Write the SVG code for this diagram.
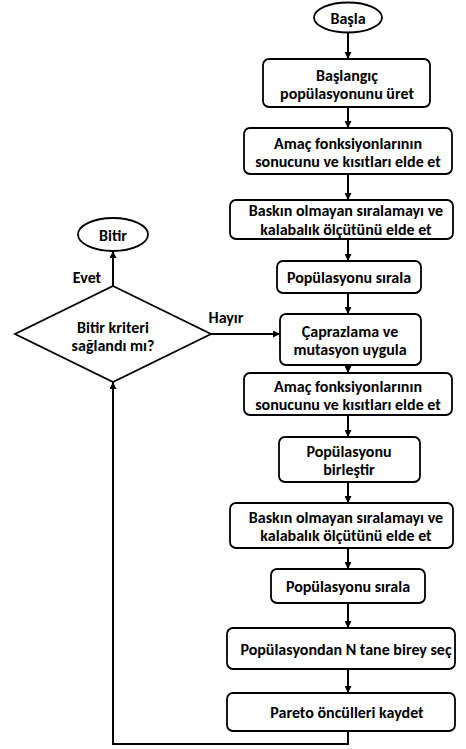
<svg xmlns="http://www.w3.org/2000/svg" width="466" height="749" viewBox="0 0 466 749">
<defs>
<marker id="ah" viewBox="0 0 10 10" refX="10" refY="5" markerWidth="7" markerHeight="7" markerUnits="userSpaceOnUse" orient="auto">
<path d="M0,0 L10,5 L0,10 Z" fill="#000"/>
</marker>
<style>
.b{fill:#fff;stroke:#000;stroke-width:1.8}
.t{font-family:Carlito,Lato,"Liberation Sans",sans-serif;font-weight:bold;font-size:16px;fill:#000;text-anchor:middle;dominant-baseline:central}
.c{fill:none;stroke:#000;stroke-width:2;marker-end:url(#ah)}
</style>
</defs>
<rect width="466" height="749" fill="#fff"/>
<g id="connectors">
<line class="c" x1="348" y1="33" x2="348" y2="59"/>
<line class="c" x1="348" y1="107" x2="348" y2="128"/>
<line class="c" x1="348" y1="174" x2="348" y2="200"/>
<line class="c" x1="348" y1="239" x2="348" y2="261"/>
<line class="c" x1="348" y1="293" x2="348" y2="314"/>
<line class="c" x1="348" y1="365" x2="348" y2="373"/>
<line class="c" x1="348" y1="415" x2="348" y2="437"/>
<line class="c" x1="348" y1="482" x2="348" y2="503"/>
<line class="c" x1="348" y1="548" x2="348" y2="569"/>
<line class="c" x1="348" y1="603" x2="348" y2="628"/>
<line class="c" x1="348" y1="669" x2="348" y2="693"/>
<polyline class="c" points="348,731 348,744 113,744 113,382"/>
<line class="c" x1="113" y1="286" x2="113" y2="251"/>
<line class="c" x1="211" y1="334" x2="280" y2="334"/>
<text class="t" x="87" y="277">Evet</text>
<text class="t" x="226" y="317">Hayır</text>
</g>
<g id="start"><ellipse class="b" cx="348" cy="17.5" rx="34" ry="15"/><text class="t" x="348" y="18">Başla</text></g>
<g id="n1"><rect class="b" x="263" y="59" width="167" height="48" rx="6"/><text class="t" x="347" y="75">Başlangıç</text><text class="t" x="347" y="93">popülasyonunu üret</text></g>
<g id="n2"><rect class="b" x="244" y="128" width="208" height="46" rx="6"/><text class="t" x="348" y="143">Amaç fonksiyonlarının</text><text class="t" x="348" y="161">sonucunu ve kısıtları elde et</text></g>
<g id="n3"><rect class="b" x="230" y="200" width="223" height="39" rx="6"/><text class="t" x="346" y="210">Baskın olmayan sıralamayı ve</text><text class="t" x="346" y="229">kalabalık ölçütünü elde et</text></g>
<g id="n4"><rect class="b" x="277" y="261" width="144" height="32" rx="6"/><text class="t" x="349" y="277">Popülasyonu sırala</text></g>
<g id="n5"><rect class="b" x="280" y="314" width="141" height="51" rx="6"/><text class="t" x="350" y="331">Çaprazlama ve</text><text class="t" x="350" y="349">mutasyon uygula</text></g>
<g id="n6"><rect class="b" x="244" y="373" width="208" height="42" rx="6"/><text class="t" x="348" y="386">Amaç fonksiyonlarının</text><text class="t" x="348" y="404">sonucunu ve kısıtları elde et</text></g>
<g id="n7"><rect class="b" x="279" y="437" width="141" height="45" rx="6"/><text class="t" x="349" y="451">Popülasyonu</text><text class="t" x="349" y="469">birleştir</text></g>
<g id="n8"><rect class="b" x="230" y="503" width="223" height="45" rx="6"/><text class="t" x="346" y="517">Baskın olmayan sıralamayı ve</text><text class="t" x="346" y="535">kalabalık ölçütünü elde et</text></g>
<g id="n9"><rect class="b" x="271" y="569" width="154" height="34" rx="6"/><text class="t" x="348" y="586">Popülasyonu sırala</text></g>
<g id="n10"><rect class="b" x="227" y="628" width="228" height="41" rx="6"/><text class="t" x="346" y="649">Popülasyondan N tane birey seç</text></g>
<g id="n11"><rect class="b" x="227" y="693" width="228" height="38" rx="6"/><text class="t" x="347" y="712">Pareto öncülleri kaydet</text></g>
<g id="decision"><polygon class="b" points="113,286 211,334 113,382 15,334"/><text class="t" x="113" y="327">Bitir kriteri</text><text class="t" x="113" y="345">sağlandı mı?</text></g>
<g id="end"><ellipse class="b" cx="113" cy="234.5" rx="35" ry="16.5"/><text class="t" x="113" y="235">Bitir</text></g>
</svg>
